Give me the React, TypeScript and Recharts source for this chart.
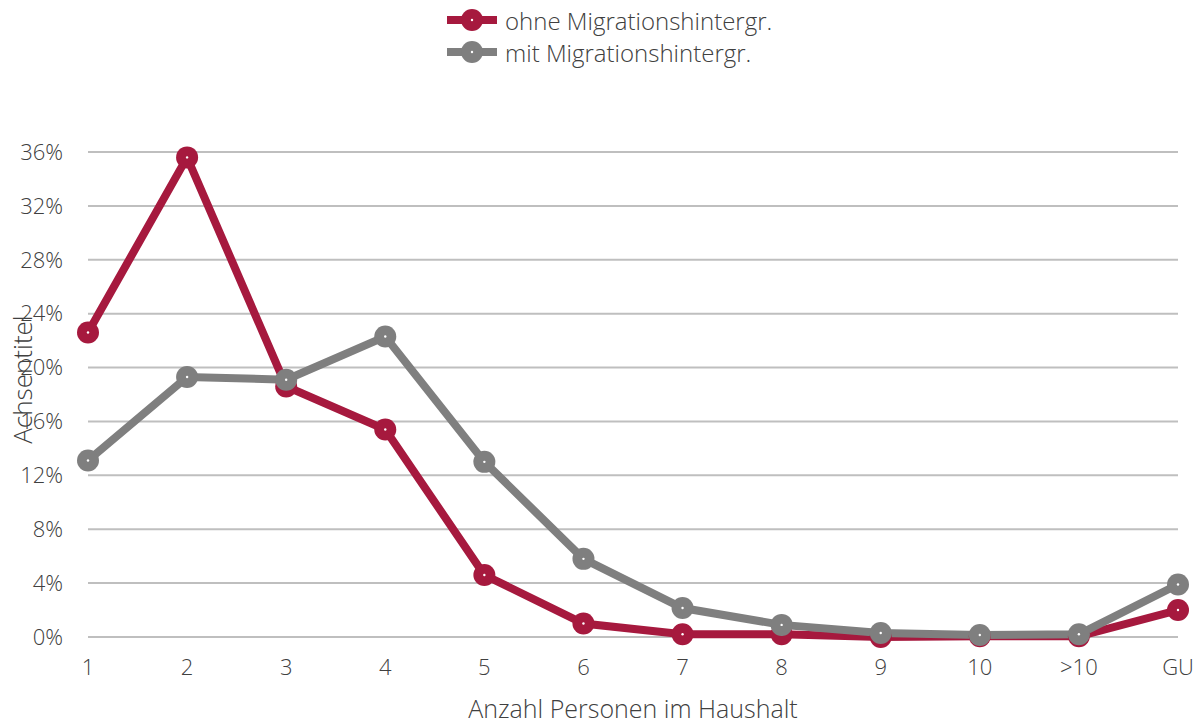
import React from 'react';
import { LineChart, Line, XAxis, YAxis, CartesianGrid, Legend } from 'recharts';

const categories = ['1', '2', '3', '4', '5', '6', '7', '8', '9', '10', '>10', 'GU'];
const ohneMigration = [22.6, 35.6, 18.6, 15.4, 4.6, 1.0, 0.2, 0.2, 0.0, 0.05, 0.05, 2.0];
const mitMigration = [13.1, 19.3, 19.1, 22.3, 13.0, 5.8, 2.15, 0.9, 0.3, 0.15, 0.2, 3.9];
const yTicks = [0, 4, 8, 12, 16, 20, 24, 28, 32, 36];

const seriesNames = ['ohne Migrationshintergr.', 'mit Migrationshintergr.'];
const xTitle = 'Anzahl Personen im Haushalt';
const yTitle = 'Achsentitel';
const RED = '#A6193E';
const GRAY = '#7F7F7F';
const TEXT = '#404040';
const FONT = '"Open Sans", "Noto Sans", sans-serif';

const data = categories.map((c, i) => ({
  cat: c,
  ohne: ohneMigration[i],
  mit: mitMigration[i],
}));

const makeDot = (color: string) => (props: any) => {
  const { cx, cy, index } = props;
  if (cx == null || cy == null) return <g key={`d-${index}`} />;
  return (
    <g key={`d-${color}-${index}`}>
      <circle cx={cx} cy={cy} r={11} fill={color} />
      <circle cx={cx} cy={cy} r={1.2} fill="#ffffff" />
    </g>
  );
};

const LegendContent = () => {
  const rows = [
    { name: seriesNames[0], color: RED, y: 20 },
    { name: seriesNames[1], color: GRAY, y: 52 },
  ];
  return (
    <svg width={1204} height={70} style={{ display: 'block' }}>
      {rows.map((r) => (
        <g key={r.name}>
          <line x1={447} x2={497} y1={r.y} y2={r.y} stroke={r.color} strokeWidth={8} />
          <circle cx={472} cy={r.y} r={11} fill={r.color} />
          <circle cx={472} cy={r.y} r={1.2} fill="#fff" />
          <text x={505} y={r.y} dominantBaseline="central" fontSize={24} fill={TEXT} fontFamily={FONT} fontWeight={300}>
            {r.name}
          </text>
        </g>
      ))}
    </svg>
  );
};

const YLabel = (props: any) => {
  const vb = props.viewBox || { x: 0, y: 0, width: 0, height: 0 };
  const x = vb.x + 22;
  const y = vb.y + vb.height / 2 - 15;
  return (
    <text
      x={x}
      y={y}
      transform={`rotate(-90, ${x}, ${y})`}
      textAnchor="middle"
      dominantBaseline="central"
      fontSize={26}
      fill={TEXT}
      fontFamily={FONT}
      fontWeight={300}
    >
      {yTitle}
    </text>
  );
};

const XLabel = (props: any) => {
  const vb = props.viewBox || { x: 0, y: 0, width: 0, height: 0 };
  const x = vb.x + vb.width / 2;
  const y = vb.y + vb.height - 9;
  return (
    <text x={x} y={y} textAnchor="middle" fontSize={25} fill={TEXT} fontFamily={FONT} fontWeight={300}>
      {xTitle}
    </text>
  );
};

export default function App() {
  return (
    <div style={{ position: 'absolute', left: 0, top: 0, background: '#fff' }}>
      <LineChart width={1204} height={727} data={data} margin={{ top: 82, right: 26, bottom: 0, left: 0 }}>
        <CartesianGrid vertical={false} stroke="#BFBFBF" strokeWidth={2} />
        <XAxis
          dataKey="cat"
          height={90}
          axisLine={false}
          tickLine={false}
          tickMargin={16}
          interval={0}
          tick={{ fontSize: 22, fill: TEXT, fontFamily: FONT, fontWeight: 300 }}
          label={<XLabel />}
        />
        <YAxis
          width={88}
          domain={[0, 36]}
          ticks={yTicks}
          axisLine={false}
          tickLine={false}
          tickMargin={19}
          tickFormatter={(v: number) => `${v}%`}
          tick={{ fontSize: 22, fill: TEXT, fontFamily: FONT, fontWeight: 300 }}
          label={<YLabel />}
        />
        <Legend verticalAlign="top" wrapperStyle={{ top: 0, left: 0, width: 1204, height: 70 }} content={<LegendContent />} />
        <Line
          dataKey="ohne"
          name={seriesNames[0]}
          stroke={RED}
          strokeWidth={8}
          dot={makeDot(RED)}
          activeDot={false}
          isAnimationActive={false}
        />
        <Line
          dataKey="mit"
          name={seriesNames[1]}
          stroke={GRAY}
          strokeWidth={8}
          dot={makeDot(GRAY)}
          activeDot={false}
          isAnimationActive={false}
        />
      </LineChart>
    </div>
  );
}
